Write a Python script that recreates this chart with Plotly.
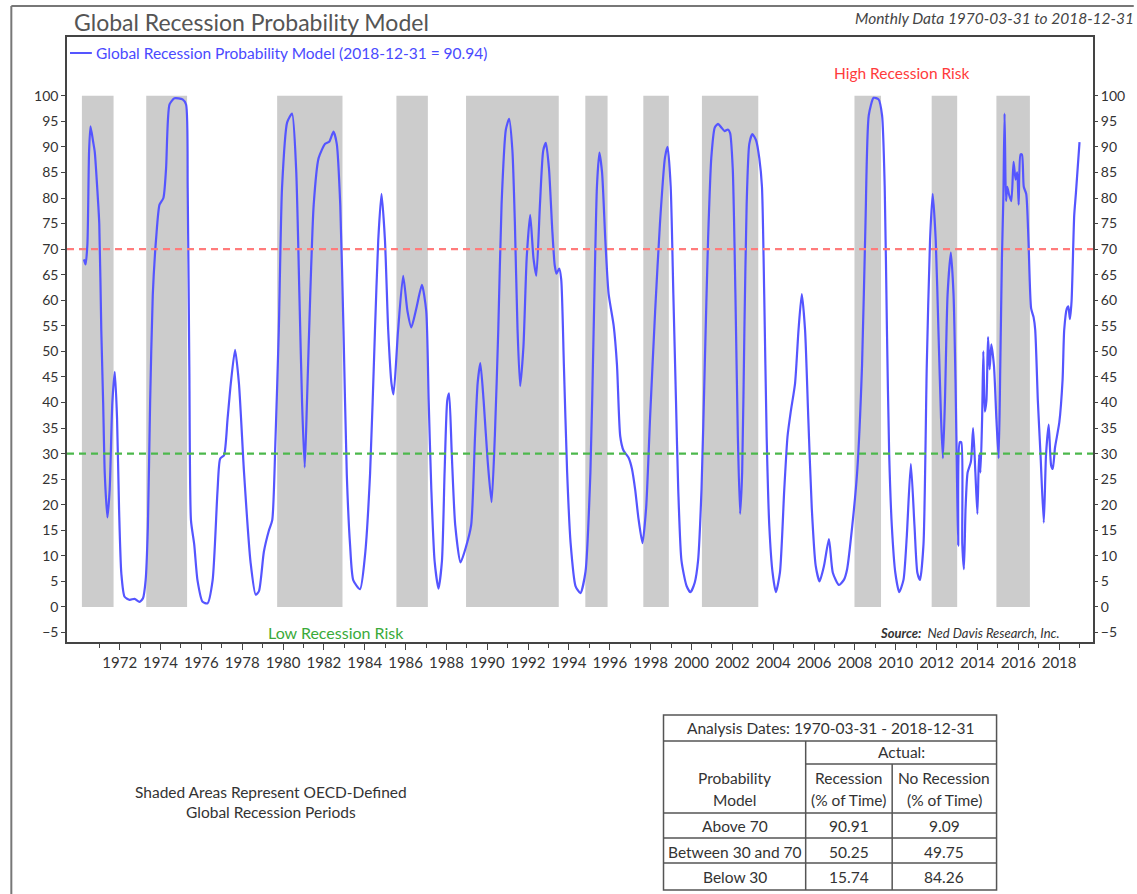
import plotly.graph_objects as go

# ---------------- data ----------------
t_year = [1970.25, 1970.33, 1970.42, 1970.50, 1970.57, 1970.70, 1970.78, 1970.90, 1971.00, 1971.10,
          1971.19, 1971.27, 1971.40, 1971.51, 1971.64, 1971.76, 1971.87, 1971.97, 1972.08, 1972.24,
          1972.49, 1972.73, 1972.97, 1973.14, 1973.27, 1973.38, 1973.49, 1973.62, 1973.79, 1973.95,
          1974.14, 1974.27, 1974.44, 1974.68, 1975.08, 1975.25, 1975.33, 1975.41, 1975.49, 1975.65,
          1975.81, 1976.06, 1976.30, 1976.55, 1976.79, 1976.92, 1977.11, 1977.28, 1977.44, 1977.65,
          1977.84, 1978.09, 1978.41, 1978.66, 1978.82, 1979.06, 1979.31, 1979.47, 1979.63, 1979.79,
          1979.95, 1980.20, 1980.44, 1980.64, 1980.80, 1980.93, 1981.06, 1981.17, 1981.33, 1981.50,
          1981.74, 1982.06, 1982.26, 1982.47, 1982.63, 1982.80, 1982.96, 1983.12, 1983.28, 1983.44,
          1983.77, 1984.01, 1984.26, 1984.50, 1984.66, 1984.82, 1984.99, 1985.15, 1985.31, 1985.41,
          1985.63, 1985.88, 1986.09, 1986.28, 1986.53, 1986.80, 1987.01, 1987.13, 1987.26, 1987.42,
          1987.61, 1987.78, 1987.91, 1988.04, 1988.13, 1988.26, 1988.43, 1988.69, 1988.96, 1989.21,
          1989.40, 1989.53, 1989.66, 1989.82, 1990.02, 1990.21, 1990.37, 1990.54, 1990.70, 1990.91,
          1991.07, 1991.23, 1991.35, 1991.48, 1991.61, 1991.77, 1991.93, 1992.10, 1992.26, 1992.40,
          1992.58, 1992.74, 1992.87, 1993.02, 1993.18, 1993.30, 1993.39, 1993.52, 1993.62, 1993.75,
          1993.91, 1994.08, 1994.32, 1994.56, 1994.81, 1995.05, 1995.21, 1995.37, 1995.49, 1995.62,
          1995.78, 1995.94, 1996.19, 1996.35, 1996.51, 1996.67, 1996.92, 1997.08, 1997.24, 1997.40,
          1997.60, 1997.78, 1997.97, 1998.22, 1998.46, 1998.70, 1998.83, 1998.98, 1999.11, 1999.24,
          1999.35, 1999.51, 1999.76, 1999.95, 2000.16, 2000.32, 2000.49, 2000.65, 2000.81, 2000.97,
          2001.14, 2001.30, 2001.46, 2001.62, 2001.78, 2001.89, 2002.02, 2002.15, 2002.27, 2002.38,
          2002.48, 2002.59, 2002.70, 2002.83, 2002.98, 2003.16, 2003.32, 2003.45, 2003.56, 2003.68,
          2003.81, 2003.97, 2004.13, 2004.33, 2004.54, 2004.70, 2004.86, 2005.07, 2005.24, 2005.40,
          2005.56, 2005.72, 2005.89, 2006.08, 2006.27, 2006.49, 2006.73, 2006.92, 2007.22, 2007.46,
          2007.62, 2007.87, 2008.11, 2008.35, 2008.52, 2008.68, 2008.92, 2009.16, 2009.33, 2009.46,
          2009.57, 2009.68, 2009.81, 2009.98, 2010.17, 2010.38, 2010.54, 2010.74, 2010.92, 2011.06,
          2011.19, 2011.36, 2011.52, 2011.68, 2011.81, 2011.96, 2012.09, 2012.22, 2012.31, 2012.41,
          2012.54, 2012.70, 2012.83, 2012.93, 2013.01, 2013.06, 2013.13, 2013.21, 2013.26, 2013.34,
          2013.42, 2013.52, 2013.68, 2013.79, 2013.90, 2014.00, 2014.08, 2014.15, 2014.23, 2014.29,
          2014.36, 2014.44, 2014.52, 2014.60, 2014.68, 2014.81, 2014.93, 2015.04, 2015.12, 2015.20,
          2015.27, 2015.33, 2015.40, 2015.46, 2015.54, 2015.66, 2015.77, 2015.87, 2015.95, 2016.02,
          2016.11, 2016.18, 2016.27, 2016.39, 2016.50, 2016.63, 2016.75, 2016.83, 2016.96, 2017.09,
          2017.25, 2017.36, 2017.49, 2017.61, 2017.69, 2017.80, 2018.01, 2018.17, 2018.25, 2018.38,
          2018.45, 2018.53, 2018.61, 2018.74, 2018.82, 2019.00]

prob = [68, 67, 71, 89, 94, 91, 89, 82, 75, 54,
        40, 26, 17.5, 23, 40, 46, 37, 19, 6.6, 2,
        1.4, 1.6, 1.0, 1.7, 5.2, 15.7, 40, 61, 72.4, 78.7,
        80, 85.7, 98.3, 99.5, 99.3, 98.3, 82, 47, 17, 12.2,
        5.2, 1, 0.7, 5.2, 22.7, 29, 29.7, 36.7, 43.7, 50.3,
        43.7, 26.2, 8.7, 2.4, 3.1, 10.8, 15, 17, 33, 54,
        82, 94.8, 96.5, 85.7, 61, 40, 27.3, 40, 61, 78.7,
        87.8, 90.6, 91, 93, 90.6, 78.7, 54, 26, 12.2, 5.2,
        3.5, 10, 26, 54, 71.7, 80.8, 71.7, 54, 43.7, 41.6,
        54, 64.8, 57.9, 54.7, 58.5, 63, 57.9, 40.4, 23, 9,
        3.6, 9, 26.4, 40.4, 41.8, 30, 16, 8.7, 11.8, 16,
        33.4, 43.9, 47.7, 40.4, 28.5, 20.5, 33.4, 54.4, 78.8, 93.4,
        95.5, 89.3, 75.3, 54.4, 43.2, 50.9, 68.3, 76.7, 68.3, 64.8,
        78.8, 89.3, 90.8, 85.8, 73.9, 66.9, 65.2, 66.2, 64.1, 47.4,
        26.4, 12.5, 4.1, 2.7, 6.9, 26.4, 54.4, 82.3, 88.9, 85,
        71.8, 61.3, 55, 47.4, 33.4, 30.6, 29.2, 27.1, 23, 17.4,
        12.5, 19.5, 36.9, 57.9, 75.3, 87.9, 90, 82.3, 61.3, 40.4,
        23, 9, 4.1, 2.9, 4.8, 9, 23, 47.4, 71.8, 87.9,
        93.8, 94.5, 93.8, 93.1, 93.4, 92.7, 85.7, 61.2, 33.3, 18.2,
        26.3, 54.2, 78.7, 90.6, 92.5, 91.3, 87.8, 82.2, 61.2, 33.3,
        15.8, 6.7, 2.9, 6.7, 22.8, 33.3, 38.2, 43.7, 54.2, 61.2,
        54.2, 36.8, 19.3, 8.1, 5, 8.1, 13.3, 6.7, 4.3, 5.3,
        7.4, 15.8, 26.3, 47.2, 75.2, 96.2, 99.6, 99.3, 96.2, 82.2,
        54.2, 29.8, 15.8, 6.7, 2.9, 5.3, 13.7, 28, 15.8, 6.7,
        5.3, 12.3, 47.2, 71.7, 80.8, 71.7, 54.2, 36.8, 29.1, 40.3,
        61.2, 69.3, 61.2, 43.7, 22.8, 12, 32.2, 32.2, 12.3, 7.4,
        19.3, 26.3, 28.4, 35, 26.3, 18.2, 29.8, 26.3, 36.8, 50,
        38.2, 40.3, 52.8, 46.5, 51.4, 47.2, 36.8, 29.1, 47.2, 68.2,
        80, 96.5, 79.4, 82.2, 80.8, 79.4, 87.1, 83.6, 85, 78.7,
        88.5, 88.5, 82.2, 80.8, 71.7, 58.4, 56.7, 54.2, 40.3, 29.8,
        16.5, 29.8, 35.7, 27.7, 27, 31.2, 36.1, 44.4, 54.2, 58.4,
        58.8, 56.3, 59.8, 76.6, 80.8, 90.94]

recession_start = [1970.15, 1973.30, 1979.71, 1985.55, 1988.96, 1994.80, 1997.64, 2000.51, 2007.98, 2011.76, 2014.93]
recession_end = [1971.70, 1975.30, 1982.91, 1987.09, 1993.50, 1995.89, 1998.89, 2003.27, 2009.28, 2013.01, 2016.57]

high_risk_level = 70
low_risk_level = 30

x_tick_years = list(range(1972, 2019, 2))
x_minor_years = list(range(1971, 2020, 2))
y_ticks = list(range(-5, 101, 5))

table_title = "Analysis Dates: 1970-03-31 - 2018-12-31"
table_rows = ["Above 70", "Between 30 and 70", "Below 30"]
table_recession = ["90.91", "50.25", "15.74"]
table_no_recession = ["9.09", "49.75", "84.26"]

# ---------------- layout geometry (pixels) ----------------
W, H = 1137, 894
L, R, T, B = 67, 1099, 37, 642
FONT = "Lato"


def px(x):
    return (x - L) / (R - L)


def py(y):
    return (B - y) / (B - T)


fig = go.Figure()

fig.add_trace(go.Scatter(
    x=t_year, y=prob, mode="lines",
    line=dict(color="#5555ff", width=2.2, shape="spline", smoothing=0.6),
    showlegend=False, hoverinfo="x+y"))

# invisible trace for right axis
fig.add_trace(go.Scatter(x=[t_year[0]], y=[None], yaxis="y2", showlegend=False,
                         hoverinfo="skip", mode="markers", marker=dict(opacity=0)))

shapes = []
for s, e in zip(recession_start, recession_end):
    shapes.append(dict(type="rect", xref="x", yref="y", x0=s, x1=e, y0=0, y1=100,
                       fillcolor="#cccccc", line=dict(width=0), layer="below"))

shapes.append(dict(type="line", xref="paper", yref="y", x0=0, x1=1, y0=high_risk_level, y1=high_risk_level,
                   line=dict(color="#ff7b7b", width=2.2, dash="7px,5px")))
shapes.append(dict(type="line", xref="paper", yref="y", x0=0, x1=1, y0=low_risk_level, y1=low_risk_level,
                   line=dict(color="#4cb84c", width=2.2, dash="7px,5px")))

# legend sample line
shapes.append(dict(type="line", xref="paper", yref="paper", x0=px(70), x1=px(92), y0=py(53), y1=py(53),
                   line=dict(color="#5555ff", width=2)))

# outer image border
shapes.append(dict(type="line", xref="paper", yref="paper", x0=px(11), x1=px(11), y0=py(6), y1=py(900),
                   line=dict(color="#777777", width=2)))
shapes.append(dict(type="line", xref="paper", yref="paper", x0=px(11), x1=px(1140), y0=py(6), y1=py(6),
                   line=dict(color="#777777", width=2)))

# table lines
tc = "#555555"
tL, tR, tT, tB = 667, 1002, 715, 890
c1, c2 = 810, 897
shapes.append(dict(type="rect", xref="paper", yref="paper", x0=px(tL), x1=px(tR), y0=py(tT), y1=py(tB),
                   line=dict(color=tc, width=1.5)))
for yy, xa in [(741, tL), (764, c1), (813, tL), (838, tL), (863, tL)]:
    shapes.append(dict(type="line", xref="paper", yref="paper", x0=px(xa), x1=px(tR), y0=py(yy), y1=py(yy),
                       line=dict(color=tc, width=1.5)))
shapes.append(dict(type="line", xref="paper", yref="paper", x0=px(c1), x1=px(c1), y0=py(741), y1=py(tB),
                   line=dict(color=tc, width=1.5)))
shapes.append(dict(type="line", xref="paper", yref="paper", x0=px(c2), x1=px(c2), y0=py(764), y1=py(tB),
                   line=dict(color=tc, width=1.5)))

ann = []


def text(x, y, s, size=15.5, color="#333333", anchor="center", italic=False):
    ann.append(dict(xref="paper", yref="paper", x=px(x), y=py(y), text=s, showarrow=False,
                    xanchor=anchor, yanchor="middle",
                    font=dict(family=FONT, size=size, color=color,
                              style="italic" if italic else "normal")))


text(72, 22, "Global Recession Probability Model", size=23, color="#555555", anchor="left")
text(1142, 18, "Monthly Data 1970-03-31 to 2018-12-31", size=15.5, color="#444444", anchor="right", italic=True)
text(94, 53, "Global Recession Probability Model (2018-12-31 = 90.94)", size=15.5, color="#4a4aff", anchor="left")
text(907, 73, "High Recession Risk", size=15.5, color="#ff3b3b")
text(338, 632, "Low Recession Risk", size=16, color="#3aaa3a")
text(1068, 633, "<b>Source:</b>  Ned Davis Research, Inc.", size=13, color="#333333", anchor="right", italic=True)

text(272, 792, "Shaded Areas Represent OECD-Defined")
text(272, 812, "Global Recession Periods")

text((tL + tR) / 2, 728, table_title)
text((c1 + tR) / 2, 752, "Actual:")
text((tL + c1) / 2, 778, "Probability")
text((tL + c1) / 2, 800, "Model")
text((c1 + c2) / 2, 778, "Recession")
text((c1 + c2) / 2, 800, "(% of Time)")
text((c2 + tR) / 2, 778, "No Recession")
text((c2 + tR) / 2, 800, "(% of Time)")
for i, (lab, r1, r2) in enumerate(zip(table_rows, table_recession, table_no_recession)):
    yy = 826 + i * 25.5
    text((tL + c1) / 2, yy, lab)
    text((c1 + c2) / 2, yy, r1)
    text((c2 + tR) / 2, yy, r2)

yr = [-6.85, 111.5]
axis_font = dict(family=FONT, size=14, color="#333333")

fig.update_layout(
    width=W, height=H,
    margin=dict(l=L, r=W - R, t=T, b=H - B),
    paper_bgcolor="white", plot_bgcolor="white",
    shapes=shapes, annotations=ann,
    xaxis=dict(range=[1969.42, 2019.66], tickmode="array", tickvals=x_tick_years,
               ticktext=[str(v) for v in x_tick_years],
               ticks="outside", ticklen=6, tickwidth=1.2, tickcolor="#444444",
               showline=True, linecolor="#444444", linewidth=1.5, mirror=True,
               showgrid=False, zeroline=False,
               tickfont=dict(family=FONT, size=15, color="#333333"),
               minor=dict(tickmode="array", tickvals=x_minor_years, ticks="outside",
                          ticklen=4, tickwidth=1.2, tickcolor="#444444", showgrid=False)),
    yaxis=dict(range=yr, tickmode="array", tickvals=y_ticks, ticks="outside", ticklen=4,
               tickwidth=1.2, tickcolor="#444444",
               showline=True, linecolor="#444444", linewidth=1.5, mirror=True,
               showgrid=False, zeroline=False, tickfont=axis_font),
    yaxis2=dict(range=yr, overlaying="y", side="right", tickmode="array", tickvals=y_ticks,
                ticks="outside", ticklen=4, tickwidth=1.2, tickcolor="#444444",
                showline=False, showgrid=False, zeroline=False, tickfont=axis_font),
)

fig.write_html("out.html", config={"displayModeBar": False},
               post_script="document.body.style.margin='0';document.body.style.overflow='hidden';")
